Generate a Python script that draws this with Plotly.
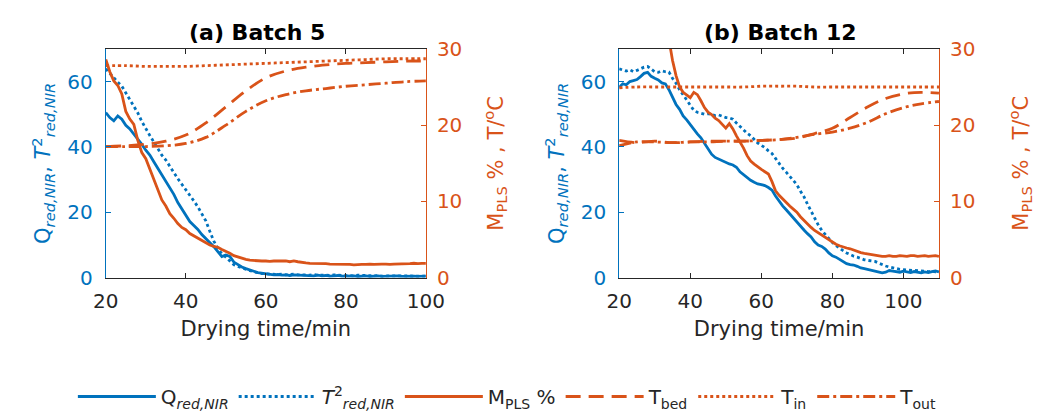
import plotly.graph_objects as go

BLUE = "#0072BD"
ORANGE = "#D95319"
DARK = "#262626"
FONT = "DejaVu Sans"

# ---------------- Panel (a) Batch 5 ----------------
t_a = list(range(20, 101))
q_a = [50.5, 49.0, 48.0, 49.5, 48.5, 46.6, 45.5, 44.0, 42.5, 40.8,
       39.0, 37.5, 35.5, 33.5, 31.5, 29.4, 27.5, 25.5, 23.0, 21.0,
       18.8, 17.2, 16.0, 14.8, 13.2, 12.0, 10.5, 9.5, 8.0, 6.5,
       7.0, 6.5, 4.8, 4.0, 3.3, 2.8, 2.3, 2.0, 1.6, 1.4,
       1.2, 1.1, 0.9, 1.0, 0.8, 0.9, 0.7, 0.9, 0.8, 0.7,
       0.8, 0.7, 0.6, 0.8, 0.6, 0.7, 0.5, 0.6, 0.7, 0.5,
       0.6, 0.5, 0.6, 0.4, 0.5, 0.6, 0.4, 0.5, 0.6, 0.4,
       0.5, 0.4, 0.5, 0.6, 0.4, 0.5, 0.4, 0.5, 0.4, 0.5, 0.5]
t2_a = [63.9, 62.5, 61.0, 59.8, 58.6, 56.5, 54.3, 52.5, 50.4, 47.8,
        45.5, 43.5, 41.5, 39.5, 37.5, 36.0, 34.0, 32.2, 30.3, 28.6,
        27.0, 25.3, 23.5, 21.7, 19.5, 17.4, 14.2, 11.2, 9.0, 7.3,
        6.3, 5.0, 4.0, 3.5, 3.0, 2.6, 2.2, 1.8, 1.5, 1.3,
        1.2, 1.1, 1.2, 1.0, 1.1, 0.9, 1.0, 1.1, 0.9, 1.0,
        0.9, 0.8, 1.0, 0.8, 0.9, 0.8, 0.7, 0.9, 0.8, 0.7,
        0.8, 0.7, 0.6, 0.8, 0.7, 0.6, 0.7, 0.6, 0.7, 0.5,
        0.6, 0.6, 0.5, 0.6, 0.5, 0.6, 0.5, 0.5, 0.6, 0.5, 0.5]
m_a = [28.6, 27.0, 25.8, 25.2, 24.1, 21.8, 20.8, 20.1, 18.0, 16.4,
       15.6, 14.3, 12.9, 11.5, 10.2, 9.4, 8.4, 7.8, 7.1, 6.6,
       6.3, 5.8, 5.5, 5.1, 4.8, 4.5, 4.3, 4.1, 4.0, 3.7,
       3.5, 3.2, 2.9, 2.7, 2.5, 2.4, 2.3, 2.25, 2.2, 2.2,
       2.2, 2.15, 2.2, 2.2, 2.15, 2.2, 2.1, 2.2, 2.1, 2.0,
       1.95, 1.9, 1.9, 1.85, 1.9, 1.85, 1.8, 1.8, 1.75, 1.8,
       1.75, 1.75, 1.7, 1.75, 1.75, 1.75, 1.8, 1.75, 1.8, 1.8,
       1.8, 1.75, 1.8, 1.8, 1.85, 1.8, 1.85, 1.9, 1.85, 1.9, 1.9]
tt_a = [20, 25, 30, 35, 40, 45, 50, 55, 60, 65, 70, 75, 80, 85, 90, 95, 100]
tin_a = [27.8, 27.8, 27.7, 27.7, 27.7, 27.8, 27.9, 28.0, 28.1, 28.2, 28.3, 28.4, 28.5, 28.6, 28.7, 28.7, 28.7]
tbed_a = [17.2, 17.3, 17.5, 17.9, 18.7, 20.3, 22.4, 24.5, 26.2, 27.1, 27.6, 27.9, 28.1, 28.2, 28.3, 28.4, 28.4]
tout_a = [17.2, 17.2, 17.2, 17.3, 17.6, 18.4, 20.0, 21.8, 23.2, 24.0, 24.5, 24.8, 25.1, 25.3, 25.5, 25.7, 25.8]

# ---------------- Panel (b) Batch 12 ----------------
t_b = list(range(20, 111))
q_b = [58.3, 59.3, 59.0, 60.0, 60.3, 60.6, 61.5, 62.5, 62.8, 61.6,
       61.0, 60.5, 59.6, 59.3, 57.5, 55.0, 53.0, 51.5, 49.5, 48.3,
       46.8, 45.5, 44.0, 42.8, 41.2, 39.8, 37.8, 36.8, 36.3, 35.9,
       35.2, 34.8, 34.5, 33.8, 32.4, 31.5, 30.8, 29.8, 29.2, 28.7,
       28.5, 28.2, 27.6, 26.8, 25.0, 23.3, 22.0, 20.8, 19.5, 18.2,
       17.2, 15.8, 14.6, 13.5, 12.5, 11.0, 10.0, 9.6, 8.8, 7.6,
       6.7, 6.3, 5.7, 5.0, 4.3, 4.0, 3.9, 3.5, 3.0, 2.8,
       2.5, 2.2, 2.0, 1.6, 1.5, 1.7, 2.2, 2.0, 1.9, 1.7,
       2.0, 1.8, 1.6, 1.9, 1.7, 1.5, 1.8, 1.6, 1.9, 2.1, 1.8]
t2_b = [63.9, 63.5, 63.2, 63.6, 63.0, 63.4, 63.9, 64.4, 64.6, 63.8,
        63.0, 62.8, 63.3, 63.0, 62.9, 61.0, 59.5, 57.5, 56.0, 54.3,
        53.0, 51.2, 50.6, 50.3, 50.0, 50.2, 50.0, 49.6, 49.8, 49.4,
        49.0, 48.9, 48.5, 47.3, 46.2, 45.3, 44.2, 43.4, 42.3, 41.2,
        40.5, 39.8, 38.8, 38.0, 36.5, 34.8, 33.5, 32.3, 31.0, 29.8,
        28.5, 26.5, 24.8, 22.5, 20.3, 18.4, 16.2, 14.5, 13.3, 11.8,
        10.8, 9.9, 9.0, 8.3, 7.6, 7.0, 6.6, 6.3, 5.8, 5.5,
        5.3, 5.1, 5.0, 4.5, 4.0, 3.6, 3.3, 3.0, 2.9, 2.6,
        2.5, 2.4, 2.2, 2.1, 2.0, 2.0, 1.9, 1.9, 2.0, 1.8, 1.9]
tm_b = list(range(33, 111))
m_b = [34.0, 31.0, 28.5, 26.5, 25.0, 24.3, 23.9, 23.6, 24.3, 24.0,
       23.2, 22.3, 21.7, 21.4, 20.9, 20.6, 20.1, 19.6, 20.2, 19.5,
       18.6, 17.8, 17.0, 16.0, 15.3, 14.9, 14.5, 14.2, 13.9, 13.6,
       12.6, 11.4, 10.8, 10.3, 9.9, 9.4, 9.0, 8.6, 8.0, 7.5,
       7.0, 6.6, 6.2, 5.9, 5.5, 5.2, 4.9, 4.6, 4.4, 4.2,
       4.0, 3.9, 3.8, 3.6, 3.4, 3.3, 3.2, 3.1, 3.0, 2.9,
       2.9, 2.8, 2.8, 2.9, 2.8, 2.8, 2.9, 2.8, 2.8, 2.9,
       2.9, 2.8, 2.9, 2.9, 2.8, 2.9, 2.9, 2.8]
tt_b = [20, 25, 30, 35, 40, 45, 50, 55, 60, 65, 70, 75, 80, 85, 90, 95, 100, 105, 110]
tin_b = [24.9, 25.0, 25.0, 25.0, 25.0, 25.0, 25.0, 25.0, 25.1, 25.1, 25.1, 25.0, 25.0, 25.0, 25.0, 25.0, 25.0, 25.0, 25.0]
tbed_b = [18.0, 17.7, 17.9, 17.7, 17.8, 17.9, 17.9, 17.9, 18.0, 18.1, 18.3, 18.9, 19.6, 21.0, 22.4, 23.5, 24.1, 24.3, 24.2]
tout_b = [17.3, 17.8, 17.8, 17.7, 17.8, 17.8, 17.9, 17.9, 18.0, 18.1, 18.4, 18.8, 19.1, 19.6, 20.4, 21.5, 22.3, 22.8, 23.1]

x_ticks_a = [20, 40, 60, 80, 100]
x_ticks_b = [20, 40, 60, 80, 100]
yl_ticks = [0, 20, 40, 60]
yr_ticks = [0, 10, 20, 30]

names = {
    "q": "Q<sub><i>red,NIR</i></sub>",
    "t2": "<i>T</i><sup>2</sup><sub><i>red,NIR</i></sub>",
    "m": "M<sub>PLS</sub> %",
    "bed": "T<sub>bed</sub>",
    "in": "T<sub>in</sub>",
    "out": "T<sub>out</sub>",
}

LW = 2.8
DASH = "15px,8px"
DOT = "3px,3px"
DASHDOT = "12px,4px,3px,4px"

fig = go.Figure()


def add_panel(xa, yl, yr, t, q, t2, tm, m, tt, tin, tbed, tout, show):
    fig.add_trace(go.Scatter(x=t, y=q, xaxis=xa, yaxis=yl, mode="lines", name=names["q"],
                             line=dict(color=BLUE, width=LW), showlegend=show, legendrank=1))
    fig.add_trace(go.Scatter(x=t, y=t2, xaxis=xa, yaxis=yl, mode="lines", name=names["t2"],
                             line=dict(color=BLUE, width=LW, dash=DOT), showlegend=show, legendrank=2))
    fig.add_trace(go.Scatter(x=tm, y=m, xaxis=xa, yaxis=yr, mode="lines", name=names["m"],
                             line=dict(color=ORANGE, width=LW), showlegend=show, legendrank=3))
    fig.add_trace(go.Scatter(x=tt, y=tbed, xaxis=xa, yaxis=yr, mode="lines", name=names["bed"],
                             line=dict(color=ORANGE, width=LW, dash=DASH, shape="spline"),
                             showlegend=show, legendrank=4))
    fig.add_trace(go.Scatter(x=tt, y=tin, xaxis=xa, yaxis=yr, mode="lines", name=names["in"],
                             line=dict(color=ORANGE, width=LW, dash=DOT, shape="spline"),
                             showlegend=show, legendrank=5))
    fig.add_trace(go.Scatter(x=tt, y=tout, xaxis=xa, yaxis=yr, mode="lines", name=names["out"],
                             line=dict(color=ORANGE, width=LW, dash=DASHDOT, shape="spline"),
                             showlegend=show, legendrank=6))


add_panel("x", "y", "y2", t_a, q_a, t2_a, t_a, m_a, tt_a, tin_a, tbed_a, tout_a, True)
add_panel("x2", "y3", "y4", t_b, q_b, t2_b, tm_b, m_b, tt_b, tin_b, tbed_b, tout_b, False)

YDOM = [0.322, 0.906]
TICKF = dict(family=FONT, size=20)
TITLEF = dict(family=FONT, size=21)


def xaxis(dom, rng, ticks, anchor):
    return dict(domain=dom, range=rng, tickvals=ticks, anchor=anchor,
                showline=True, linecolor=DARK, linewidth=1, mirror="ticks",
                ticks="inside", ticklen=5, tickcolor=DARK, showgrid=False, zeroline=False,
                tickfont=dict(TICKF, color=DARK), ticklabelstandoff=5,
                title=dict(text="Drying time/min", font=dict(TITLEF, color=DARK), standoff=9))


def yleft(anchor, standoff):
    return dict(domain=YDOM, range=[0, 70], tickvals=yl_ticks, anchor=anchor,
                showline=True, linecolor=BLUE, linewidth=1, ticks="inside", ticklen=5,
                tickcolor=BLUE, showgrid=False, zeroline=False,
                tickfont=dict(TICKF, color=BLUE), ticklabelstandoff=8,
                title=dict(text=names["q"] + ", " + names["t2"],
                           font=dict(TITLEF, color=BLUE), standoff=standoff))


def yright(anchor, over, standoff):
    return dict(range=[0, 30], tickvals=yr_ticks, anchor=anchor, overlaying=over, side="right",
                showline=True, linecolor=ORANGE, linewidth=1, ticks="inside", ticklen=5,
                tickcolor=ORANGE, showgrid=False, zeroline=False,
                tickfont=dict(TICKF, color=ORANGE), ticklabelstandoff=6,
                title=dict(text="M<sub>PLS</sub> % , T/<sup>o</sup>C",
                           font=dict(TITLEF, color=ORANGE), standoff=standoff))


fig.update_layout(
    width=1044, height=416,
    margin=dict(l=0, r=0, t=0, b=0),
    paper_bgcolor="white", plot_bgcolor="white",
    font=dict(family=FONT, color=DARK),
    xaxis=xaxis([0.0917, 0.408], [20, 100], x_ticks_a, "y"),
    xaxis2=xaxis([0.599, 0.915], [20, 110], x_ticks_b, "y3"),
    yaxis=yleft("x", 10),
    yaxis2=yright("x", "y", 26),
    yaxis3=yleft("x2", 10),
    yaxis4=yright("x2", "y3", 38),
    legend=dict(orientation="h", x=0.489, xanchor="center", y=0.018, yanchor="middle",
                font=dict(family=FONT, size=20, color=DARK), itemwidth=78,
                bgcolor="rgba(0,0,0,0)", traceorder="normal"),
    annotations=[
        dict(text="<b>(a) Batch 5</b>", x=0.241, y=0.947, xref="paper", yref="paper",
             showarrow=False, font=dict(family=FONT, size=22, color="black"),
             xanchor="center", yanchor="middle"),
        dict(text="<b>(b) Batch 12</b>", x=0.758, y=0.947, xref="paper", yref="paper",
             showarrow=False, font=dict(family=FONT, size=22, color="black"),
             xanchor="center", yanchor="middle"),
    ],
)

fig.write_html("out.html")
